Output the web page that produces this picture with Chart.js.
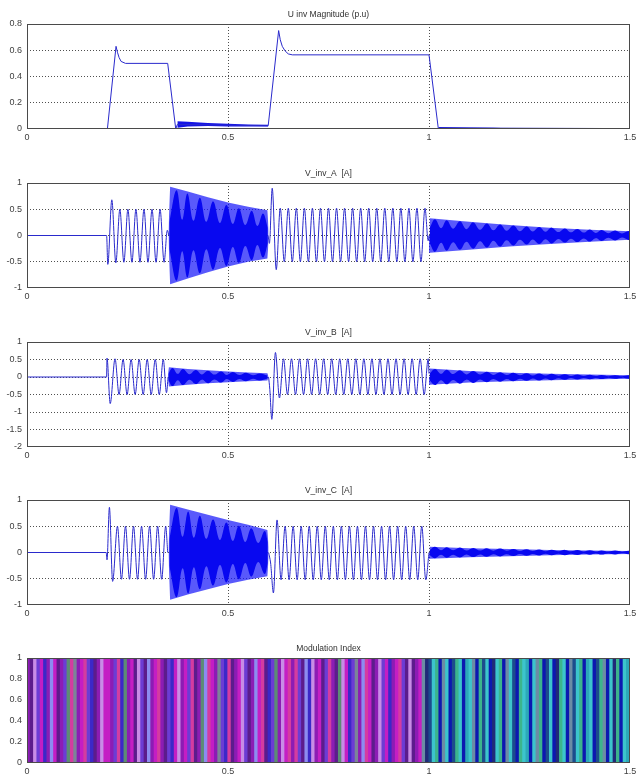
<!DOCTYPE html>
<html><head><meta charset="utf-8">
<script src="https://cdn.jsdelivr.net/npm/chart.js@4.4.1/dist/chart.umd.min.js"></script>
<style>
html,body{margin:0;padding:0;background:#fff;overflow:hidden;width:636px;height:775px;position:relative}
canvas{position:absolute;left:0}
</style></head><body>
<canvas id="c1" width="636" height="153" style="top:0px"></canvas>
<canvas id="c2" width="636" height="153" style="top:159px"></canvas>
<canvas id="c3" width="636" height="153" style="top:318px"></canvas>
<canvas id="c4" width="636" height="153" style="top:476px"></canvas>
<canvas id="c5" width="636" height="153" style="top:634px"></canvas>
<script>
// ---------------- DATA ----------------
const titles = ["U inv Magnitude (p.u)", "V_inv_A  [A]", "V_inv_B  [A]", "V_inv_C  [A]", "Modulation Index"];
const xTickStep = 0.5, xMin = 0, xMax = 1.5;

// U inv magnitude
const magLine = [[0,0],[0.2,0],[0.2215,0.63],[0.225,0.585],[0.229,0.545],[0.234,0.515],[0.245,0.5],[0.35,0.5],[0.37,0.0],[0.374,0.035],[0.6,0.025],[0.626,0.75],[0.630,0.68],[0.635,0.63],[0.642,0.595],[0.65,0.572],[0.66,0.565],[1.0,0.565],[1.023,0.008],[1.5,0.003]];
const magBandT  = [0.374,0.40,0.45,0.50,0.55,0.60];
const magBandHi = [0.06,0.055,0.046,0.04,0.035,0.032];
const magBandLo = [0.01,0.02,0.022,0.02,0.02,0.02];
const magBand2T  = [1.024,1.1,1.16,1.2];
const magBand2Hi = [0.016,0.012,0.01,0.006];
const magBand2Lo = [0.002,0.002,0.002,0.002];

// V_inv_A
const aSeg1 = [[0,0],[0.198,0],[0.201,-0.55],[0.211,0.68],[0.221,-0.52],[0.231,0.5],[0.241,-0.51],[0.251,0.5],[0.261,-0.51],[0.271,0.5],[0.281,-0.51],[0.291,0.5],[0.301,-0.51],[0.311,0.5],[0.321,-0.51],[0.331,0.5],[0.341,-0.51],[0.349,0.1],[0.353,0]];
const aSeg2 = [[0.600,0],[0.603,-0.15],[0.610,0.9],[0.620,-0.65],[0.630,0.52],[0.640,-0.5],[0.650,0.52],[0.660,-0.5],[0.670,0.52],[0.680,-0.5],[0.690,0.52],[0.700,-0.5],[0.710,0.52],[0.720,-0.5],[0.730,0.52],[0.740,-0.5],[0.750,0.52],[0.760,-0.5],[0.770,0.52],[0.780,-0.5],[0.790,0.52],[0.800,-0.5],[0.810,0.52],[0.820,-0.5],[0.830,0.52],[0.840,-0.5],[0.850,0.52],[0.860,-0.5],[0.870,0.52],[0.880,-0.5],[0.890,0.52],[0.900,-0.5],[0.910,0.52],[0.920,-0.5],[0.930,0.52],[0.940,-0.5],[0.950,0.52],[0.960,-0.5],[0.970,0.52],[0.980,-0.5],[0.990,0.52],[0.998,-0.1],[1.0,0]];
const aMidT  = [0.352,0.356,0.40,0.45,0.50,0.55,0.598,0.601];
const aMidHi = [0.1,0.93,0.84,0.73,0.63,0.55,0.48,0.1];
const aMidLo = [-0.05,-0.93,-0.82,-0.7,-0.59,-0.5,-0.44,-0.1];
const aBlobMid = [[0.354,0.25],[0.372,0.86],[0.386,0.3],[0.399,0.8],[0.414,0.28],[0.430,0.72],[0.446,0.26],[0.463,0.65],[0.48,0.24],[0.496,0.58],[0.512,0.22],[0.527,0.52],[0.543,0.2],[0.559,0.47],[0.573,0.18],[0.587,0.42],[0.599,0.15]];
const aEndT  = [1.0,1.002,1.1,1.2,1.3,1.4,1.5];
const aEndHi = [0,0.33,0.26,0.2,0.15,0.11,0.08];
const aEndLo = [0,-0.33,-0.27,-0.21,-0.16,-0.12,-0.08];
const aBlobEnd = [[1.002,0.15],[1.015,0.31],[1.03,0.14],[1.044,0.29],[1.06,0.13],[1.077,0.27],[1.093,0.12],[1.11,0.25],[1.127,0.11],[1.144,0.23],[1.16,0.1],[1.177,0.21],[1.193,0.09],[1.21,0.19],[1.226,0.08],[1.243,0.17],[1.258,0.075],[1.274,0.16],[1.29,0.07],[1.305,0.15],[1.322,0.065],[1.338,0.135],[1.353,0.06],[1.369,0.125],[1.385,0.055],[1.4,0.115],[1.415,0.05],[1.429,0.105],[1.446,0.045],[1.463,0.095],[1.48,0.04],[1.496,0.085],[1.5,0.06]];

// V_inv_B
const bSeg1 = [[0,0],[0.198,0],[0.199,0.54],[0.207,-0.76],[0.219,0.52],[0.229,-0.5],[0.239,0.5],[0.249,-0.5],[0.259,0.5],[0.269,-0.5],[0.279,0.5],[0.289,-0.5],[0.299,0.5],[0.309,-0.5],[0.319,0.5],[0.329,-0.5],[0.339,0.5],[0.347,-0.45],[0.351,0]];
const bSeg2 = [[0.601,0],[0.604,-0.35],[0.609,-1.21],[0.618,0.7],[0.628,-0.6],[0.638,0.52],[0.648,-0.5],[0.658,0.52],[0.668,-0.5],[0.678,0.52],[0.688,-0.5],[0.698,0.52],[0.708,-0.5],[0.718,0.52],[0.728,-0.5],[0.738,0.52],[0.748,-0.5],[0.758,0.52],[0.768,-0.5],[0.778,0.52],[0.788,-0.5],[0.798,0.52],[0.808,-0.5],[0.818,0.52],[0.828,-0.5],[0.838,0.52],[0.848,-0.5],[0.858,0.52],[0.868,-0.5],[0.878,0.52],[0.888,-0.5],[0.898,0.52],[0.908,-0.5],[0.918,0.52],[0.928,-0.5],[0.938,0.52],[0.948,-0.5],[0.958,0.52],[0.968,-0.5],[0.978,0.52],[0.988,-0.5],[0.998,0.52],[1.0,0.1]];
const bMidT  = [0.35,0.353,0.40,0.45,0.50,0.55,0.598,0.601];
const bMidHi = [0,0.28,0.23,0.19,0.16,0.13,0.11,0];
const bMidLo = [0,-0.27,-0.22,-0.18,-0.15,-0.12,-0.1,0];
const bBlobMid = [[0.352,0.1],[0.362,0.26],[0.375,0.09],[0.388,0.23],[0.404,0.08],[0.420,0.2],[0.435,0.075],[0.450,0.18],[0.466,0.07],[0.483,0.16],[0.497,0.06],[0.512,0.14],[0.528,0.055],[0.545,0.12],[0.562,0.05],[0.579,0.1],[0.598,0.04]];
const bEndT  = [1.0,1.002,1.1,1.2,1.3,1.4,1.5];
const bEndHi = [0,0.24,0.17,0.12,0.09,0.07,0.05];
const bEndLo = [0,-0.22,-0.16,-0.12,-0.09,-0.07,-0.05];
const bBlobEnd = [[1.002,0.1],[1.015,0.23],[1.03,0.09],[1.044,0.21],[1.06,0.085],[1.077,0.19],[1.093,0.075],[1.11,0.17],[1.127,0.07],[1.144,0.15],[1.16,0.06],[1.177,0.135],[1.193,0.055],[1.21,0.12],[1.226,0.05],[1.243,0.11],[1.258,0.045],[1.274,0.1],[1.29,0.04],[1.305,0.09],[1.322,0.035],[1.338,0.08],[1.353,0.032],[1.369,0.072],[1.385,0.03],[1.4,0.065],[1.415,0.027],[1.429,0.058],[1.446,0.025],[1.463,0.053],[1.48,0.022],[1.496,0.048],[1.5,0.04]];

// V_inv_C
const cSeg1 = [[0,0],[0.197,0],[0.199,-0.14],[0.205,0.86],[0.213,-0.55],[0.225,0.5],[0.235,-0.51],[0.245,0.5],[0.255,-0.51],[0.265,0.5],[0.275,-0.51],[0.285,0.5],[0.295,-0.51],[0.305,0.5],[0.315,-0.51],[0.325,0.5],[0.335,-0.51],[0.345,0.5],[0.35,0]];
const cSeg2 = [[0.601,0],[0.606,-0.2],[0.613,-0.77],[0.622,0.62],[0.632,-0.52],[0.642,0.5],[0.652,-0.52],[0.662,0.5],[0.672,-0.52],[0.682,0.5],[0.692,-0.52],[0.702,0.5],[0.712,-0.52],[0.722,0.5],[0.732,-0.52],[0.742,0.5],[0.752,-0.52],[0.762,0.5],[0.772,-0.52],[0.782,0.5],[0.792,-0.52],[0.802,0.5],[0.812,-0.52],[0.822,0.5],[0.832,-0.52],[0.842,0.5],[0.852,-0.52],[0.862,0.5],[0.872,-0.52],[0.882,0.5],[0.892,-0.52],[0.902,0.5],[0.912,-0.52],[0.922,0.5],[0.932,-0.52],[0.942,0.5],[0.952,-0.52],[0.962,0.5],[0.972,-0.52],[0.982,0.5],[0.992,-0.52],[1.0,0]];
const cMidT  = [0.352,0.356,0.40,0.45,0.50,0.55,0.598,0.601];
const cMidHi = [0.1,0.91,0.82,0.72,0.62,0.53,0.43,0.1];
const cMidLo = [-0.05,-0.9,-0.8,-0.7,-0.6,-0.52,-0.45,-0.1];
const cBlobMid = [[0.354,0.25],[0.372,0.85],[0.387,0.3],[0.401,0.78],[0.415,0.28],[0.430,0.7],[0.446,0.26],[0.463,0.63],[0.48,0.24],[0.496,0.57],[0.512,0.22],[0.527,0.51],[0.543,0.2],[0.558,0.46],[0.575,0.18],[0.591,0.41],[0.599,0.2]];
const cEndT  = [1.0,1.002,1.1,1.2,1.3,1.4,1.5];
const cEndHi = [0,0.11,0.08,0.065,0.05,0.04,0.03];
const cEndLo = [0,-0.12,-0.09,-0.07,-0.05,-0.04,-0.03];
const cBlobEnd = [[1.002,0.05],[1.015,0.11],[1.03,0.045],[1.044,0.1],[1.06,0.042],[1.077,0.095],[1.093,0.04],[1.11,0.088],[1.127,0.037],[1.144,0.08],[1.16,0.034],[1.177,0.074],[1.193,0.032],[1.21,0.068],[1.226,0.03],[1.243,0.063],[1.258,0.028],[1.274,0.058],[1.29,0.026],[1.305,0.054],[1.322,0.024],[1.338,0.05],[1.353,0.022],[1.369,0.046],[1.385,0.02],[1.4,0.042],[1.415,0.019],[1.429,0.039],[1.446,0.018],[1.463,0.036],[1.48,0.016],[1.496,0.033],[1.5,0.03]];

// Modulation index: every stripe spans 0..1; stripe colour codes left (t<0.98) and right
const modBottom = 0, modTop = 1;
const modStripesLeft  = "PDLVMBPWMDPVTKGPMKVBDPLMMPVKBTPMDLVDWPMKPDVBMLPMVKDPTWKMPGVBKDPMLVDPWMKDBVTPLMKPKVDWBLPMDVKPDTLMBVGPWKMDPLVMBPMKVDLDPM";
const modStripesRight = "HRSCENHCNSECNACHNESCNRCENHCSNECANCHENSCNRECNHSCENACNSEHNCRENCA";

// ---------------- STYLE ----------------
const stripePalette = {
  P:'#8c1cb4', M:'#c41ec4', V:'#6c3cd4', L:'#c88ce6', G:'#7c8498', B:'#3c28c8', K:'#d43ca0', T:'#5c8c74', D:'#5c1c8c', W:'#8c8cf0',
  N:'#0c18b0', C:'#3cc4cc', E:'#3cb48c', S:'#1c4c8c', H:'#6c8ca4', R:'#202a78', A:'#2ca8b8'
};
const LINE = '#2a2acc', BAND = 'rgba(25,25,250,0.72)', BLOB = '#0808f0';

Chart.defaults.font.family = '"Liberation Sans", Arial, Helvetica, sans-serif';
Chart.defaults.font.size = 9;
Chart.defaults.color = '#404040';
Chart.defaults.animation = false;

const pts = p => p.map(([x,y]) => ({x, y}));
function line(p, smooth) { return {data: pts(p), borderColor: LINE, borderWidth: 1, pointRadius: 0, fill: false,
  tension: smooth ? 0.4 : 0, cubicInterpolationMode: smooth ? 'monotone' : 'default'}; }
function band(T, hi, lo, color) {
  return [
    {data: T.map((t,i)=>({x:t,y:hi[i]})), borderColor:'rgba(0,0,0,0)', borderWidth:0, pointRadius:0, fill:'+1', backgroundColor:color, tension:0},
    {data: T.map((t,i)=>({x:t,y:lo[i]})), borderColor:'rgba(0,0,0,0)', borderWidth:0, pointRadius:0, fill:false, tension:0}
  ];
}
function blob(p, color) {
  return [
    {data: p.map(([t,a])=>({x:t,y:a})), borderColor:'rgba(0,0,0,0)', borderWidth:0, pointRadius:0, fill:'+1', backgroundColor:color, tension:0.4},
    {data: p.map(([t,a])=>({x:t,y:-a})), borderColor:'rgba(0,0,0,0)', borderWidth:0, pointRadius:0, fill:false, tension:0.4}
  ];
}

const framePlugin = {
  id: 'frame',
  afterDraw(chart, args, opts) {
    const {ctx, chartArea: a} = chart;
    ctx.save();
    ctx.strokeStyle = '#4a4a4a'; ctx.lineWidth = 1;
    ctx.strokeRect(a.left + 0.5, a.top + 0.5, a.right - a.left - 1, a.bottom - a.top - 1);
    ctx.fillStyle = '#303030';
    ctx.font = '8.5px "Liberation Sans", Arial, sans-serif';
    ctx.textAlign = 'center'; ctx.textBaseline = 'middle';
    ctx.fillText(opts.text, (a.left + a.right) / 2, a.top - 9);
    ctx.restore();
  }
};

const gridColor = c => (c.tick && (Math.abs(c.tick.value - c.scale.min) < 1e-9 || Math.abs(c.tick.value - c.scale.max) < 1e-9)) ? 'rgba(0,0,0,0)' : '#505050';
const fmt = v => String(Math.round(v * 100) / 100);

function scalesFor(yMin, yMax, yStep) {
  return {
    x: { type:'linear', min:xMin, max:xMax, position:'bottom', offset:false,
      ticks:{ stepSize:xTickStep, padding:3, maxRotation:0, autoSkip:false, color:'#404040', callback: fmt },
      grid:{ drawTicks:false, color:gridColor, lineWidth:1, offset:false },
      border:{ display:false, dash:[1,2] },
      afterFit: s => { s.height = 24; s.paddingLeft = 0; s.paddingRight = 0; } },
    y: { type:'linear', min:yMin, max:yMax,
      ticks:{ stepSize:yStep, padding:5, color:'#404040', callback: fmt },
      grid:{ drawTicks:false, color:gridColor, lineWidth:1 },
      border:{ display:false, dash:[1,2] },
      afterFit: s => { s.width = 27; s.paddingTop = 0; s.paddingBottom = 0; } }
  };
}
const baseOpts = (title) => ({
  responsive:false, devicePixelRatio:1,
  layout:{ padding:{ top:24, right:6, left:0, bottom:0 } },
  plugins:{ legend:{display:false}, tooltip:{enabled:false}, frame:{ text:title } }
});

function lineChart(id, title, yMin, yMax, yStep, datasets) {
  const o = baseOpts(title);
  o.scales = scalesFor(yMin, yMax, yStep);
  return new Chart(document.getElementById(id), { type:'line', data:{ datasets }, options:o, plugins:[framePlugin] });
}

lineChart('c1', titles[0], 0, 0.8, 0.2, [
  line(magLine, false),
  ...band(magBandT, magBandHi, magBandLo, '#1414e6'),
  ...band(magBand2T, magBand2Hi, magBand2Lo, '#1414e6')
]);

lineChart('c2', titles[1], -1, 1, 0.5, [
  line(aSeg1, true), line(aSeg2, true),
  ...blob(aBlobMid, BLOB), ...band(aMidT, aMidHi, aMidLo, BAND),
  ...blob(aBlobEnd, BLOB), ...band(aEndT, aEndHi, aEndLo, BAND)
]);

lineChart('c3', titles[2], -2, 1, 0.5, [
  line(bSeg1, true), line(bSeg2, true),
  ...blob(bBlobMid, BLOB), ...band(bMidT, bMidHi, bMidLo, BAND),
  ...blob(bBlobEnd, BLOB), ...band(bEndT, bEndHi, bEndLo, BAND)
]);

lineChart('c4', titles[3], -1, 1, 0.5, [
  line(cSeg1, true), line(cSeg2, true),
  ...blob(cBlobMid, BLOB), ...band(cMidT, cMidHi, cMidLo, BAND),
  ...blob(cBlobEnd, BLOB), ...band(cEndT, cEndHi, cEndLo, BAND)
]);

// Modulation index stripes
const stripeCodes = (modStripesLeft + modStripesRight).split('');
const mo = baseOpts(titles[4]);
mo.scales = scalesFor(0, 1, 0.2);
mo.scales.xc = { type:'category', display:false, offset:true, grid:{display:false} };
new Chart(document.getElementById('c5'), {
  type:'bar',
  data:{
    labels: stripeCodes.map((c,i)=>String(i)),
    datasets:[{ xAxisID:'xc', data: stripeCodes.map(()=>[modBottom, modTop]),
      backgroundColor: stripeCodes.map(c=>stripePalette[c]),
      borderWidth:0, barPercentage:1, categoryPercentage:1, inflateAmount:0.6 }]
  },
  options: mo,
  plugins:[framePlugin]
});
</script>
</body></html>
